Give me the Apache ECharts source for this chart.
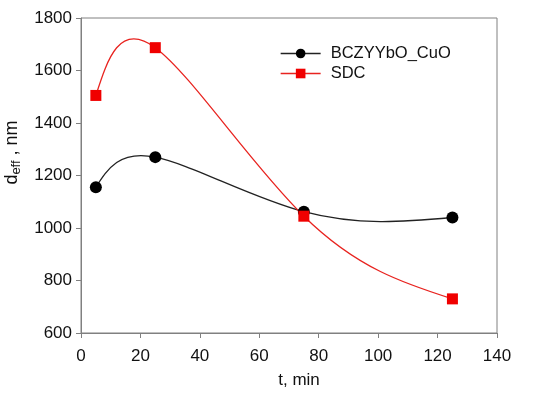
<!DOCTYPE html>
<html><head><meta charset="utf-8">
<script src="https://cdn.jsdelivr.net/npm/echarts@6/dist/echarts.min.js"></script>
<style>html,body{margin:0;padding:0;background:#fff}#c{width:550px;height:397px}</style>
</head><body><div id="c"></div>
<script>
var tValues = [5, 25, 75, 125];
var bczyyboValues = [1155, 1270, 1062, 1040];
var sdcValues = [1505, 1687, 1045, 730];
var xTicks = [0, 20, 40, 60, 80, 100, 120, 140];
var yTicks = [600, 800, 1000, 1200, 1400, 1600, 1800];

function pairs(xs, ys){ return xs.map(function(x,i){return [x, ys[i], i];}); }

// natural cubic spline tangents (uniform parameter), SigmaPlot-like spline curve
function tangents(p){
  var n = p.length, a = [], b = [], c = [], r = [];
  for (var i = 0; i < n; i++){
    if (i === 0){ a[i]=0; b[i]=2; c[i]=1; r[i]=3*(p[1]-p[0]); }
    else if (i === n-1){ a[i]=1; b[i]=2; c[i]=0; r[i]=3*(p[n-1]-p[n-2]); }
    else { a[i]=1; b[i]=4; c[i]=1; r[i]=3*(p[i+1]-p[i-1]); }
  }
  for (var i = 1; i < n; i++){
    var m = a[i]/b[i-1];
    b[i] -= m*c[i-1]; r[i] -= m*r[i-1];
  }
  var d = new Array(n);
  d[n-1] = r[n-1]/b[n-1];
  for (var i = n-2; i >= 0; i--) d[i] = (r[i]-c[i]*d[i+1])/b[i];
  return d;
}
function splineSegments(xs, ys){
  var dx = tangents(xs), dy = tangents(ys), segs = [];
  for (var i = 0; i < xs.length-1; i++){
    segs.push([[xs[i], ys[i]], [xs[i]+dx[i]/3, ys[i]+dy[i]/3],
               [xs[i+1]-dx[i+1]/3, ys[i+1]-dy[i+1]/3], [xs[i+1], ys[i+1]]]);
  }
  return segs;
}
function curveSeries(name, xs, ys, color){
  var segs = splineSegments(xs, ys);
  return {
    name: name, type: 'custom', z: 1, silent: true,
    data: pairs(xs, ys), encode: {x: 0, y: 1},
    renderItem: function(params, api){
      var i = params.dataIndex;
      if (i >= segs.length) return {type: 'group', children: []};
      var s = segs[i].map(function(p){ return api.coord(p); });
      return {type: 'bezierCurve',
        shape: {x1: s[0][0], y1: s[0][1], cpx1: s[1][0], cpy1: s[1][1], cpx2: s[2][0], cpy2: s[2][1], x2: s[3][0], y2: s[3][1]},
        style: {stroke: color, lineWidth: 1.3, fill: null}};
    }
  };
}

var chart = echarts.init(document.getElementById('c'));
var axisCol = '#808080';
var font = 'Liberation Sans, Arial, sans-serif';
var blackLine = '#222222', redLine = '#e8231f';
chart.setOption({
  animation: false,
  grid: {left: 81, right: 53, top: 18, bottom: 64, show: true, borderColor: axisCol, borderWidth: 1,
         containLabel: false, outerBoundsMode: 'none'},
  legend: {
    left: 275, top: 40, orient: 'vertical', itemGap: 3, itemWidth: 40, itemHeight: 12,
    textStyle: {fontFamily: font, fontSize: 16.5, color: '#111', padding: [0, 0, 0, 5]},
    data: [
      {name: 'BCZYYbO_CuO', lineStyle: {width: 1.3, color: blackLine, opacity: 1}},
      {name: 'SDC', lineStyle: {width: 1.3, color: redLine, opacity: 1}}
    ]
  },
  xAxis: {
    type: 'value', min: 0, max: 140, interval: 20,
    name: 't, min', nameLocation: 'middle', nameGap: 39,
    nameTextStyle: {fontFamily: font, fontSize: 17, color: '#111', padding: [0, 0, 0, 20]},
    axisLine: {onZero: false, lineStyle: {color: axisCol}},
    axisTick: {show: true, length: 5, lineStyle: {color: axisCol}},
    axisLabel: {fontFamily: font, fontSize: 17, color: '#111', margin: 15, formatter: function(v){return String(v);}},
    splitLine: {show: false}
  },
  yAxis: {
    type: 'value', min: 600, max: 1800, interval: 200,
    name: '{d|d}{s|eff}{d| , nm}', nameLocation: 'middle', nameGap: 53,
    nameTextStyle: {padding: [0, 0, 0, 46], rich: {
      d: {fontFamily: font, fontSize: 18, color: '#111'},
      s: {fontFamily: font, fontSize: 13, color: '#111', padding: [10, 0, 0, 0]}
    }},
    axisLine: {show: true, onZero: false, lineStyle: {color: axisCol}},
    axisTick: {show: true, length: 5, lineStyle: {color: axisCol}},
    axisLabel: {fontFamily: font, fontSize: 17, color: '#111', margin: 9, formatter: function(v){return String(v);}},
    splitLine: {show: false}
  },
  series: [
    curveSeries('BCZYYbO_CuO curve', tValues, bczyyboValues, blackLine),
    curveSeries('SDC curve', tValues, sdcValues, redLine),
    {
      name: 'BCZYYbO_CuO', type: 'line', z: 3,
      data: pairs(tValues, bczyyboValues),
      symbol: 'circle', symbolSize: 12,
      itemStyle: {color: '#000'},
      lineStyle: {width: 0, opacity: 0}
    },
    {
      name: 'SDC', type: 'line', z: 3,
      data: pairs(tValues, sdcValues),
      symbol: 'rect', symbolSize: 11,
      itemStyle: {color: '#f00000'},
      lineStyle: {width: 0, opacity: 0}
    }
  ]
});
</script></body></html>
